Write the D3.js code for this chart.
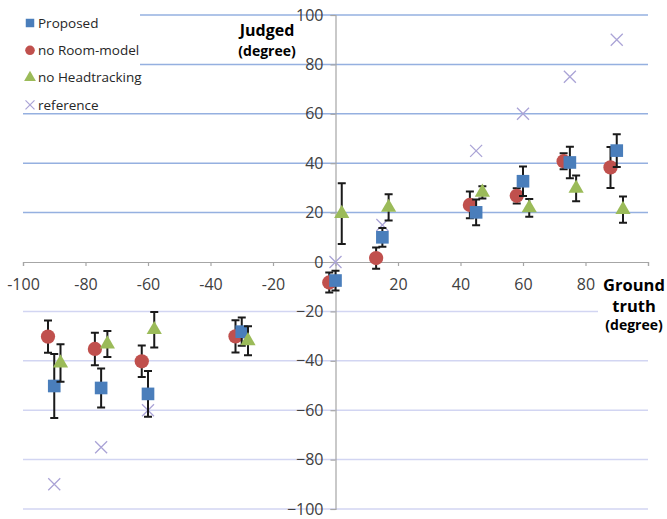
<!DOCTYPE html>
<html>
<head>
<meta charset="utf-8">
<script src="https://cdn.jsdelivr.net/npm/d3@7"></script>
<style>
  body { margin: 0; background: #fff; }
  svg { font-family: "Open Sans", "Noto Sans", sans-serif; }
</style>
</head>
<body>
<svg id="chart" width="667" height="519"></svg>
<script>
// ground truth angles and x offsets used in the sheet
const angles = [-90, -75, -60, -30, 0, 15, 45, 60, 75, 90];
const seriesNames = ["Proposed", "no Room-model", "no Headtracking", "reference"];

const proposed = [-50.2, -51, -53.4, -28.2, -7.5, 10, 20.1, 32.7, 40.3, 45.1];
const proposedErr = [13, 7.9, 9.3, 5.7, 4, 3.8, 5.2, 6, 6.4, 6.6];

const noRoom = [-30.2, -35.2, -40.2, -30.1, -8.3, 1.6, 23.1, 26.8, 40.8, 38.3];
const noRoomErr = [6.5, 6.6, 6.4, 6.5, 4, 4.3, 5.4, 3.1, 3.2, 8.3];

const noHead = [-40.9, -33.2, -27.4, -31.9, 19.6, 22.1, 28.2, 21.9, 29.8, 21.2];
const noHeadErr = [7.6, 5.3, 7.2, 5.9, 12.3, 5.3, 2.5, 3.6, 5.2, 5.3];

const reference = [-90, -75, -60, -30, 0, 15, 45, 60, 75, 90];

const xTicks = [-100, -80, -60, -40, -20, 20, 40, 60, 80];
const yTicks = [-100, -80, -60, -40, -20, 0, 20, 40, 60, 80, 100];

const svg = d3.select("#chart");

const x = d3.scaleLinear().domain([-100, 100]).range([23, 648]);
const y = d3.scaleLinear().domain([-100, 100]).range([509, 15]);

const colors = {
  proposed: "#4a7ebb",
  noRoom: "#c0504d",
  noHead: "#9bbb59",
  reference: "#aaa3d6",
};

// horizontal gridlines
svg.append("g")
  .selectAll("line")
  .data(yTicks.filter((d) => d !== 0))
  .join("line")
  .attr("x1", x(-100))
  .attr("x2", (d) => (d === -20 ? 598 : x(100)))
  .attr("y1", (d) => y(d))
  .attr("y2", (d) => y(d))
  .attr("stroke", (d) => (d > 0 ? "#95b0e0" : "#d2d5f2"))
  .attr("stroke-width", 1.5);

// axes crossing at the origin
const xAxis = svg.append("g")
  .attr("transform", `translate(0,${y(0)})`)
  .call(d3.axisBottom(x).tickValues(xTicks.concat([0, 100])).tickSize(4).tickPadding(13).tickFormat((d) => (d === 0 || d === 100 ? "" : d)));

const yAxis = svg.append("g")
  .attr("transform", `translate(${x(0)},0)`)
  .call(d3.axisLeft(y).tickValues(yTicks).tickSize(5).tickPadding(7));

[xAxis, yAxis].forEach((g) => {
  g.select(".domain").attr("stroke", "#a6a6a6").attr("stroke-width", 1.2);
  g.selectAll(".tick line").attr("stroke", "#a6a6a6").attr("stroke-width", 1.2);
  g.selectAll(".tick text")
    .attr("fill", "#404040")
    .style("font-size", "16px")
    .style("font-family", "\"Open Sans\", sans-serif");
});
yAxis.selectAll(".tick text").attr("dy", "0.32em");

const series = [
  { key: "noRoom", vals: noRoom, err: noRoomErr, dx: -2, shape: d3.symbolCircle },
  { key: "proposed", vals: proposed, err: proposedErr, dx: 0, shape: d3.symbolSquare },
  { key: "noHead", vals: noHead, err: noHeadErr, dx: 2, shape: d3.symbolTriangle },
];

// reference crosses
const cross = (size) => `M${-size},${-size}L${size},${size}M${-size},${size}L${size},${-size}`;
svg.append("g")
  .selectAll("path")
  .data(angles.map((a, i) => ({ a, v: reference[i] })))
  .join("path")
  .attr("transform", (d) => `translate(${x(d.a)},${y(d.v)})`)
  .attr("d", cross(6))
  .attr("stroke", colors.reference)
  .attr("stroke-width", 1.3)
  .attr("fill", "none");

series.forEach((s) => {
  const pts = angles.map((a, i) => ({ gx: a + s.dx, v: s.vals[i], e: s.err[i] }));
  const g = svg.append("g");
  g.selectAll("path.err")
    .data(pts)
    .join("path")
    .attr("class", "err")
    .attr("d", (d) => {
      const cx = x(d.gx);
      const t = y(d.v + d.e);
      const b = y(d.v - d.e);
      return `M${cx},${t}L${cx},${b}M${cx - 4},${t}L${cx + 4},${t}M${cx - 4},${b}L${cx + 4},${b}`;
    })
    .attr("stroke", "#1a1a1a")
    .attr("stroke-width", 2)
    .attr("fill", "none");
  g.selectAll("path.mark")
    .data(pts)
    .join("path")
    .attr("class", "mark")
    .attr("transform", (d) => `translate(${x(d.gx)},${y(d.v)})`)
    .attr("d", d3.symbol().type(s.shape).size(s.shape === d3.symbolTriangle ? 100 : 160))
    .attr("fill", colors[s.key]);
});

// legend box (covers gridlines)
svg.append("rect")
  .attr("x", 0).attr("y", 0).attr("width", 140).attr("height", 112)
  .attr("fill", "#fff");

const legendItems = [
  { name: seriesNames[0], key: "proposed", shape: d3.symbolSquare },
  { name: seriesNames[1], key: "noRoom", shape: d3.symbolCircle },
  { name: seriesNames[2], key: "noHead", shape: d3.symbolTriangle },
  { name: seriesNames[3], key: "reference", shape: null },
];
const legend = svg.append("g");
legendItems.forEach((item, i) => {
  const cy = 23 + i * 27.3;
  if (item.shape) {
    legend.append("path")
      .attr("transform", `translate(30,${cy})`)
      .attr("d", d3.symbol().type(item.shape).size(item.shape === d3.symbolTriangle ? 60 : 72))
      .attr("fill", colors[item.key]);
  } else {
    legend.append("path")
      .attr("transform", `translate(30,${cy})`)
      .attr("d", cross(4.5))
      .attr("stroke", colors.reference)
      .attr("stroke-width", 1.2);
  }
  legend.append("text")
    .attr("x", 38)
    .attr("y", cy)
    .attr("dy", "0.35em")
    .attr("fill", "#262626")
    .style("font-size", "13.5px")
    .text(item.name);
});

// axis titles
const yTitle = svg.append("text").attr("text-anchor", "middle").attr("fill", "#000");
yTitle.append("tspan").attr("x", 267).attr("y", 36).style("font-size", "16px").style("font-weight", "bold").text("Judged");
yTitle.append("tspan").attr("x", 267).attr("y", 56).style("font-size", "14px").style("font-weight", "bold").text("(degree)");

svg.append("rect").attr("x", 599).attr("y", 270).attr("width", 68).attr("height", 66).attr("fill", "#fff");
const xTitle = svg.append("text").attr("text-anchor", "middle").attr("fill", "#000").style("font-weight", "bold");
xTitle.append("tspan").attr("x", 634).attr("y", 291).style("font-size", "16.5px").text("Ground");
xTitle.append("tspan").attr("x", 634).attr("y", 312).style("font-size", "16.5px").text("truth");
xTitle.append("tspan").attr("x", 634).attr("y", 330).style("font-size", "14px").text("(degree)");
</script>
</body>
</html>
